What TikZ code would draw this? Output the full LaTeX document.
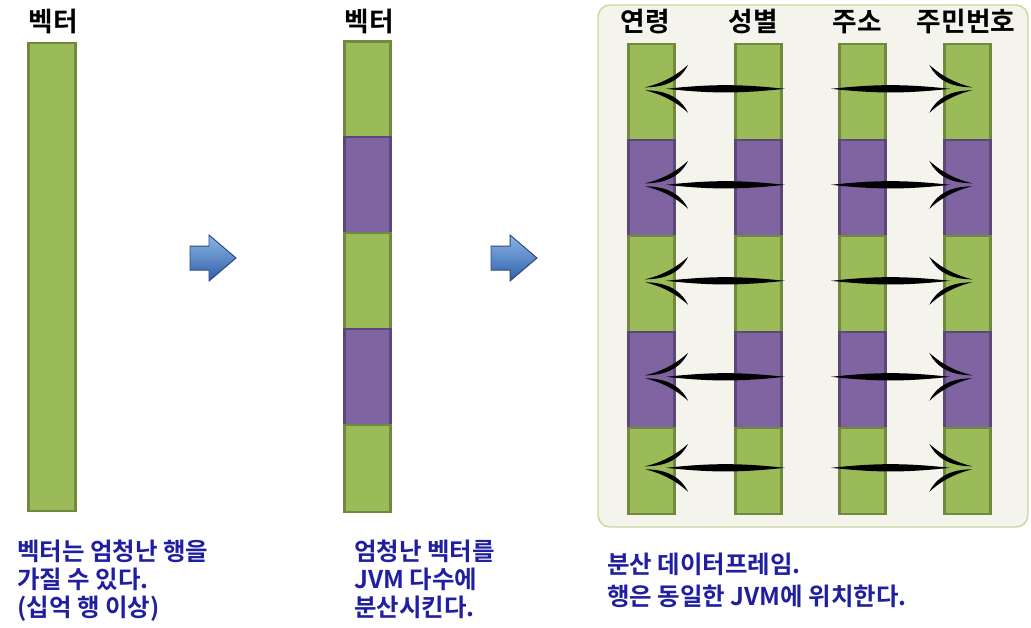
\documentclass[tikz,border=0pt]{standalone}
\usepackage{fontspec}
\setmainfont{Noto Sans CJK KR}[BoldFont={* Bold}]
\definecolor{cellgreen}{HTML}{9BBB59}
\definecolor{edgegreen}{HTML}{71893F}
\definecolor{cellpurple}{HTML}{8064A2}
\definecolor{edgepurple}{HTML}{5C4776}
\definecolor{panelfill}{HTML}{F4F3EC}
\definecolor{paneledge}{HTML}{C6D9A0}
\definecolor{noteblue}{HTML}{1F1FA0}
\definecolor{arrowtop}{HTML}{8DB6E6}
\definecolor{arrowbottom}{HTML}{2E5FA8}
\definecolor{arrowedge}{HTML}{2C4A7E}
\tikzset{
    cell/.style={draw, line width=2pt, minimum width=1.15cm, minimum height=2.4cm, inner sep=0pt},
    gcell/.style={cell, fill=cellgreen, draw=edgegreen},
    pcell/.style={cell, fill=cellpurple, draw=edgepurple},
    head/.style={font=\bfseries\fontsize{19}{22}\selectfont},
    note/.style={anchor=north west, align=left, text=noteblue, inner sep=0pt,
        font=\bfseries\fontsize{17.4}{19.8}\selectfont},
    bluearrow/.style={top color=arrowtop, bottom color=arrowbottom, draw=arrowedge, line width=0.7pt},
    barbs/.pic={
        \fill (0, -1.5) .. controls (20, -1.5) and (35, -8) .. (43, -24)
            .. controls (30, -12) and (15, -5) .. (0, -1.5);
        \fill (0, 1.5) .. controls (20, 1.5) and (35, 8) .. (43, 24)
            .. controls (30, 12) and (15, 5) .. (0, 1.5);
    }
}
\begin{document}
\begin{tikzpicture}[x=0.025cm, y=-0.025cm]
    \useasboundingbox (0, 0) rectangle (1031, 627);
        % one large vector
        \node[gcell, minimum width=1.175cm, minimum height=11.7cm] (bigvec) at (52, 277){};
            \node[head] (bigvechead) at (53, 21){벡터};
        \shade[bluearrow] (190, 246) -- (209, 246) -- (209, 235) -- (236, 258)
            -- (209, 281) -- (209, 270) -- (190, 270) -- cycle;
        % vector split into pieces
        \node[gcell] (vec1) at (367.5, 89.5){};
        \node[pcell] (vec2) at (367.5, 185){};
        \node[gcell] (vec3) at (367.5, 281){};
        \node[pcell] (vec4) at (367.5, 377){};
        \node[gcell, minimum height=2.175cm] (vec5) at (367.5, 468.5){};
            \node[head] (vechead) at (369, 21){벡터};
        \shade[bluearrow] (491, 246) -- (510, 246) -- (510, 235) -- (537, 258)
            -- (510, 281) -- (510, 270) -- (491, 270) -- cycle;
        % distributed data frame
        \draw[fill=panelfill, draw=paneledge, line width=1pt, rounded corners=0.3cm] (598, 5) rectangle (1028, 527);
        \foreach \col/\x in {age/651.5, sex/758.5, addr/862.5, ssn/967.5}{
            \node[gcell] (\col1) at (\x, 92){};
            \node[pcell] (\col2) at (\x, 188){};
            \node[gcell] (\col3) at (\x, 284){};
            \node[pcell] (\col4) at (\x, 380){};
            \node[gcell, minimum height=2.15cm] (\col5) at (\x, 471){};
        }
            \node[head] (agehead) at (645, 22){연령};
            \node[head] (sexhead) at (753, 22){성별};
            \node[head] (addrhead) at (857, 22){주소};
            \node[head] (ssnhead) at (966, 22){주민번호};
        \foreach \i in {1,...,5}{
            \coordinate (ltail\i) at ([xshift=0.05cm, yshift=0.08cm]sex\i.east);
            \coordinate (lhead\i) at ([xshift=-0.16cm, yshift=0.08cm]age\i.center);
            \coordinate (rtail\i) at ([xshift=-0.18cm, yshift=0.08cm]addr\i.west);
            \coordinate (rhead\i) at ([xshift=0.12cm, yshift=0.08cm]ssn\i.center);
            \fill (ltail\i) to[bend left=6] ([xshift=0.52cm]lhead\i) to[bend left=6] (ltail\i);
            \pic at (lhead\i) {barbs};
            \fill (rtail\i) to[bend left=6] ([xshift=-0.55cm]rhead\i) to[bend left=6] (rtail\i);
            \pic[xscale=-1] at (rhead\i) {barbs};
        }
        % notes
        \node[note] (note1) at (17, 540){벡터는 엄청난 행을\\가질 수 있다.\\(십억 행 이상)};
        \node[note] (note2) at (354, 540){엄청난 벡터를\\JVM 다수에\\분산시킨다.};
        \node[note, font=\bfseries\fontsize{17.4}{22.7}\selectfont] (note3) at (607, 553){분산 데이터프레임.\\행은 동일한 JVM에 위치한다.};
\end{tikzpicture}
\end{document}
